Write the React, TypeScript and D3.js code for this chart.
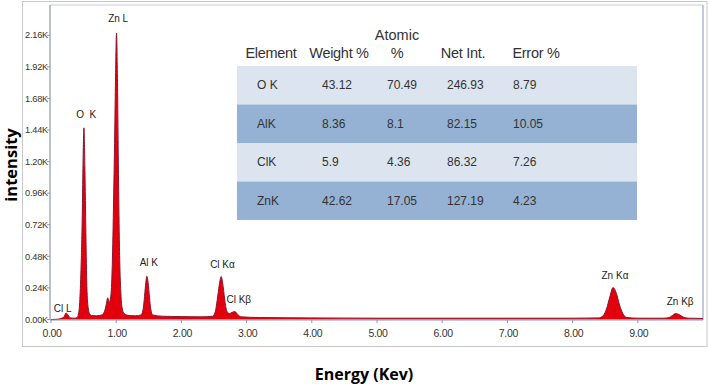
import React from "react";
import * as d3 from "d3";

const ENERGY = [0.0, 0.1, 0.15, 0.2, 0.23, 0.26, 0.3, 0.36, 0.4, 0.42, 0.44, 0.46, 0.48, 0.49, 0.505, 0.52, 0.535, 0.55, 0.57, 0.59, 0.62, 0.7, 0.78, 0.82, 0.85, 0.87, 0.89, 0.92, 0.94, 0.96, 0.98, 0.99, 1.005, 1.02, 1.035, 1.05, 1.07, 1.09, 1.12, 1.2, 1.3, 1.38, 1.41, 1.43, 1.45, 1.47, 1.49, 1.51, 1.53, 1.56, 1.7, 2.0, 2.3, 2.48, 2.52, 2.55, 2.58, 2.61, 2.64, 2.67, 2.7, 2.74, 2.78, 2.82, 2.86, 2.92, 3.2, 4.0, 5.0, 6.0, 7.0, 8.0, 8.4, 8.47, 8.52, 8.57, 8.62, 8.67, 8.72, 8.77, 8.83, 9.0, 9.4, 9.48, 9.53, 9.58, 9.63, 9.7, 9.78, 10.0];
const COUNTS = [0, 2, 8, 20, 50, 35, 12, 10, 15, 40, 130, 380, 800, 1150, 1456, 1150, 650, 250, 90, 45, 30, 28, 35, 60, 120, 165, 130, 190, 420, 900, 1500, 1850, 2176, 1800, 1100, 550, 220, 90, 45, 30, 28, 35, 70, 150, 260, 328, 280, 170, 80, 35, 25, 22, 20, 25, 60, 150, 260, 326, 250, 130, 60, 45, 55, 60, 40, 20, 15, 12, 10, 10, 10, 10, 12, 30, 80, 170, 243, 200, 110, 45, 15, 10, 10, 15, 30, 45, 38, 18, 10, 8];

const Y_TICKS = [0, 240, 480, 720, 960, 1200, 1440, 1680, 1920, 2160];
const Y_TICK_LABELS = ["0.00K", "0.24K", "0.48K", "0.72K", "0.96K", "1.20K", "1.44K", "1.68K", "1.92K", "2.16K"];
const X_TICKS = [0, 1, 2, 3, 4, 5, 6, 7, 8, 9];

const PEAK_LABELS = ["Cl L", "O  K", "Zn L", "Al K", "Cl Kα", "Cl Kβ", "Zn Kα", "Zn Kβ"];
const PEAK_ENERGY = [0.18, 0.54, 1.03, 1.5, 2.63, 2.88, 8.65, 9.65];
const PEAK_COUNT = [80, 1560, 2290, 430, 420, 150, 335, 140];

const TABLE_HEADERS = ["Element", "Weight %", "%", "Net Int.", "Error %"];
const ELEMENTS = ["O K", "AlK", "ClK", "ZnK"];
const WEIGHT = ["43.12", "8.36", "5.9", "42.62"];
const ATOMIC = ["70.49", "8.1", "4.36", "17.05"];
const NET_INT = ["246.93", "82.15", "86.32", "127.19"];
const ERROR = ["8.79", "10.05", "7.26", "4.23"];

export default function App() {
  const W = 709, H = 384;
  const x = d3.scaleLinear().domain([0, 10]).range([51, 703]);
  const y = d3.scaleLinear().domain([0, 2390]).range([319.5, 5]);
  const pts = ENERGY.map((e, i) => [e, COUNTS[i]] as [number, number]);
  const area = d3.area<[number, number]>().x(d => x(d[0])).y0(y(0)).y1(d => y(d[1])).curve(d3.curveMonotoneX);
  const line = d3.line<[number, number]>().x(d => x(d[0])).y(d => y(d[1])).curve(d3.curveMonotoneX);

  const tableLeft = 237, tableRight = 637, rowTop = 66, rowH = 38.5;
  const colX = [257, 322, 387, 447, 513];
  const headerX = [271, 339, 397, 463, 536];
  const rows = ELEMENTS.map((el, i) => [el, WEIGHT[i], ATOMIC[i], NET_INT[i], ERROR[i]]);
  const font = "'Liberation Sans', Arial, sans-serif";
  const titleFont = "'Open Sans', 'DejaVu Sans', sans-serif";

  return (
    <div style={{ position: "fixed", left: 0, top: 0 }}>
      <svg width={W} height={H} style={{ display: "block", background: "#fff" }}>
        <rect x={22.5} y={1.5} width={684.5} height={345} fill="none" stroke="#c9c9c9" strokeWidth={1} />
        <line x1={50} x2={703} y1={5} y2={5} stroke="#c5cbdc" />
        <line x1={703} x2={703} y1={5} y2={320} stroke="#8a95b8" />
        <path d={area(pts) || ""} fill="#e2000c" />
        <path d={line(pts) || ""} fill="none" stroke="#8b1530" strokeWidth={1} />
        <line x1={50} x2={50} y1={5} y2={320} stroke="#8a95b8" strokeWidth={1.2} />
        <line x1={50} x2={703} y1={320} y2={320} stroke="#8a95b8" strokeWidth={1.2} />
        {Y_TICKS.map((t, i) => (
          <g key={"yt" + i}>
            <line x1={47} x2={50} y1={y(t)} y2={y(t)} stroke="#8a95b8" />
            <text x={48} y={y(t)} dy="0.35em" textAnchor="end" fontSize={9.2} fill="#333" fontFamily={font} letterSpacing={-0.2}>{Y_TICK_LABELS[i]}</text>
          </g>
        ))}
        {X_TICKS.map((t, i) => (
          <g key={"xt" + i}>
            <line x1={x(t)} x2={x(t)} y1={320} y2={323} stroke="#8a95b8" />
            <text x={x(t) + 1} y={333} dy="0.35em" textAnchor="middle" fontSize={10.5} fill="#333" fontFamily={font} letterSpacing={-0.3}>{t.toFixed(2)}</text>
          </g>
        ))}
        {PEAK_LABELS.map((l, i) => (
          <text key={"pl" + i} x={x(PEAK_ENERGY[i])} y={y(PEAK_COUNT[i])} dy="0.35em" textAnchor="middle" fontSize={10} fill="#222" fontFamily={font} style={{ whiteSpace: "pre" }}>{l}</text>
        ))}
        {rows.map((r, i) => (
          <g key={"row" + i}>
            <rect x={tableLeft} y={rowTop + i * rowH} width={tableRight - tableLeft} height={rowH} fill={i % 2 === 0 ? "#dce5ef" : "#95b1d4"} />
            {r.map((c, j) => (
              <text key={j} x={colX[j]} y={rowTop + i * rowH + rowH / 2} dy="0.35em" fontSize={12} fill="#333" fontFamily={font}>{c}</text>
            ))}
          </g>
        ))}
        <text x={headerX[2]} y={35} dy="0.35em" textAnchor="middle" fontSize={14.5} fill="#333" fontFamily={font}>Atomic</text>
        {TABLE_HEADERS.map((h, j) => (
          <text key={"h" + j} x={headerX[j]} y={53} dy="0.35em" textAnchor="middle" fontSize={14.5} fill="#333" fontFamily={font} letterSpacing={-0.3}>{h}</text>
        ))}
        <text transform="translate(11.5,165) rotate(-90)" textAnchor="middle" dy="0.35em" fontSize={16.5} fontWeight="bold" fill="#000" fontFamily={titleFont}>intensity</text>
        <text x={364} y={374} textAnchor="middle" dy="0.35em" fontSize={16} fontWeight="bold" fill="#000" fontFamily={titleFont}>Energy (Kev)</text>
      </svg>
    </div>
  );
}
